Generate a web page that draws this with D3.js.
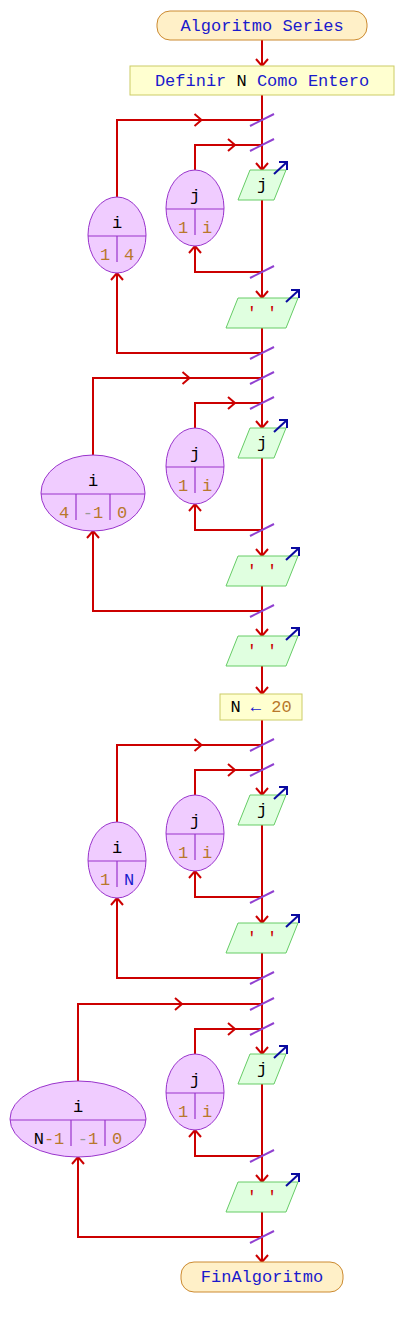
<!DOCTYPE html>
<html><head><meta charset="utf-8">
<script src="https://cdn.jsdelivr.net/npm/d3@7"></script>
<style>body{margin:0;background:#fff}</style>
</head><body><svg id="c" width="404" height="1327"></svg>
<script>
// Data: the loops of the algorithm
var loopVars = ["i", "i", "i", "i"];
var loopCells = [[["1","n"],["4","n"]], [["4","n"],["-1","n"],["0","n"]], [["1","n"],["N","v"]], [["N-1","m"],["-1","n"],["0","n"]]];
var loopTops = [120, 378, 745, 1004];
var outerX = [117, 93, 117, 78];
var outerRx = [29, 52, 29, 68];

var svg = d3.select("#c");
var y = d3.scaleLinear().domain([0, 1327]).range([0, 1327]);
var X = 262, RED = "#cc0000", PURP = "#9040d0";
var FONT = "Liberation Mono, DejaVu Sans Mono, monospace";

function line(pts, col) {
  svg.append("path").attr("d", d3.line()(pts)).attr("fill", "none").attr("stroke", col || RED).attr("stroke-width", 2);
}
function chev(x, yy, dir) {
  var d = dir == "down" ? [[x-6,yy-7],[x,yy],[x+6,yy-7]] : dir == "up" ? [[x-6,yy+7],[x,yy],[x+6,yy+7]] : [[x-7,yy-6],[x,yy],[x-7,yy+6]];
  line(d);
}
function slash(yy) { line([[250, yy+6], [274, yy-6]], PURP); }
function txt(x, yy, parts, size) {
  var t = svg.append("text").attr("x", x).attr("y", yy).attr("text-anchor", "middle").attr("dominant-baseline", "central")
    .attr("font-family", FONT).attr("font-size", size || 17);
  parts.forEach(function(p) { t.append("tspan").attr("fill", p[1]).text(p[0]); });
}
var KW = "#1a1acc", VAR = "#000", NUM = "#b8782c", STR = "#cc0000";
function terminal(x0, x1, y0, y1, label) {
  svg.append("rect").attr("x", x0).attr("y", y(y0)).attr("width", x1-x0).attr("height", y1-y0).attr("rx", 13)
    .attr("fill", "#fff0c8").attr("stroke", "#cc8a30");
  txt((x0+x1)/2, y((y0+y1)/2), [[label, KW]]);
}
function proc(x0, x1, y0, y1, parts) {
  svg.append("rect").attr("x", x0).attr("y", y(y0)).attr("width", x1-x0).attr("height", y1-y0)
    .attr("fill", "#ffffd0").attr("stroke", "#cccc66");
  txt((x0+x1)/2, y((y0+y1)/2), parts);
}
function output(y0, w, parts) {
  var h = 30, s = 12;
  var p = [[X-w/2, y0+h], [X-w/2+s, y0], [X+w/2, y0], [X+w/2-s, y0+h]];
  svg.append("path").attr("d", d3.line()(p) + "Z").attr("fill", "#e0ffe0").attr("stroke", "#66cc66");
  txt(X, y0+h/2, parts);
  var ax = X+w/2-12;
  line([[ax, y0+4], [ax+13, y0-8]], "#0a0aa0");
  line([[ax+5, y0-8], [ax+13, y0-8], [ax+13, y0]], "#0a0aa0");
}
function loopEllipse(cx, cy, rx, v, cells) {
  svg.append("ellipse").attr("cx", cx).attr("cy", cy).attr("rx", rx).attr("ry", 38)
    .attr("fill", "#f0ccff").attr("stroke", "#9933cc");
  line([[cx-rx, cy+1], [cx+rx, cy+1]], "#9933cc");
  txt(cx, cy-12, [[v, VAR]]);
  var widths = cells.map(function(c) { return c[0].length * 10 + 14; });
  var total = d3.sum(widths), x0 = cx - total/2;
  cells.forEach(function(c, k) {
    var parts = c[1] == "v" ? [[c[0], KW]] : c[1] == "m" ? [["N", VAR], ["-1", NUM]] : [[c[0], NUM]];
    if (c[0] == "-1") parts = [["-", "#999"], ["1", NUM]];
    txt(x0 + widths[k]/2, cy+20, parts);
    if (k > 0) line([[x0, cy+1], [x0, cy+27]], "#9933cc");
    x0 += widths[k];
  });
  svg.selectAll("path").filter(function(){return d3.select(this).attr("stroke")=="#9933cc";}).attr("stroke-width", 1.2);
}

// spine
line([[X, 40], [X, 1262]]);
terminal(157, 367, 11, 40, "Algoritmo Series");
chev(X, 66, "down");
proc(130, 394, 66, 95, [["Definir ", KW], ["N", VAR], [" Como Entero", KW]]);

loopTops.forEach(function(T, k) {
  var ox = outerX[k], oc = T + 115, ic = T + 88;
  // outer loop
  line([[ox, oc-38], [ox, T], [X, T]]);
  chev((ox + X)/2 + 12, T, "right");
  line([[X, T+233], [ox, T+233], [ox, oc+38]]);
  chev(ox, oc+38, "up");
  // inner loop
  line([[195, ic-38], [195, T+25], [X, T+25]]);
  chev(235, T+25, "right");
  line([[X, T+152], [195, T+152], [195, ic+38]]);
  chev(195, ic+38, "up");
  chev(X, T+50, "down");
  output(T+50, 48, [["j", VAR]]);
  chev(X, T+178, "down");
  output(T+178, 72, [["'  '", STR]]);
  [T, T+25, T+152, T+233].forEach(slash);
  loopEllipse(ox, oc, outerRx[k], loopVars[k], loopCells[k]);
  loopEllipse(195, ic, 29, "j", [["1","n"],["i","x"]]);
});
// fix inner "i" colour
svg.selectAll("tspan").filter(function(){return this.textContent=="i" && d3.select(this.parentNode).attr("y")>0;});

chev(X, 636, "down");
output(636, 72, [["'  '", STR]]);
chev(X, 694, "down");
proc(220, 302, 694, 720, [["N", VAR], [" \u2190 ", KW], ["20", NUM]]);
chev(X, 1262, "down");
terminal(181, 343, 1262, 1292, "FinAlgoritmo");
</script></body></html>
